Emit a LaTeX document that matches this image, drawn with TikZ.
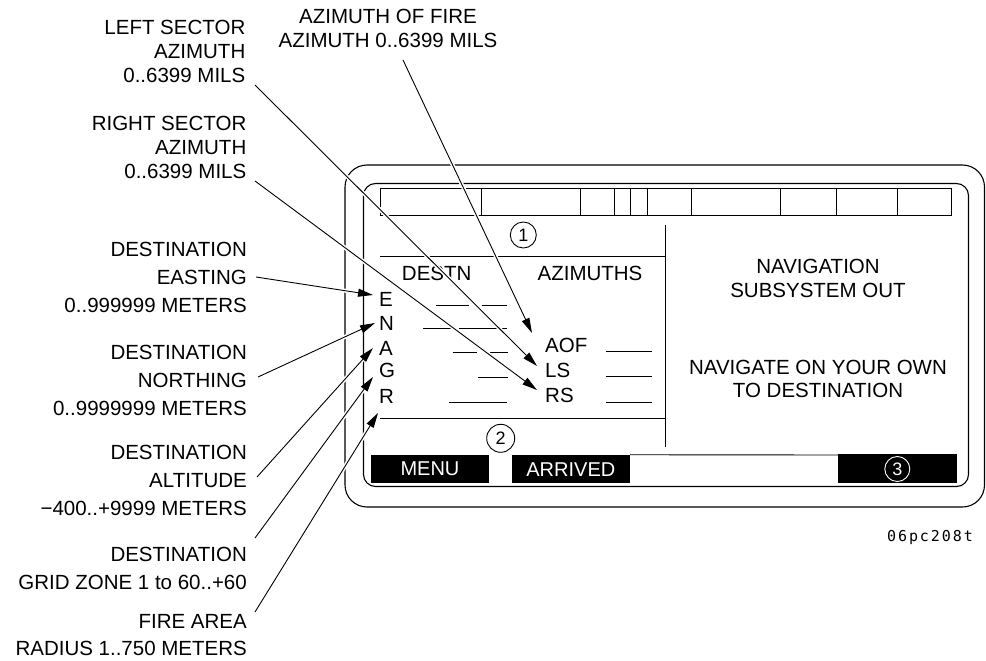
\documentclass[tikz,border=0pt]{standalone}
\usepackage{fontspec}
\setmainfont{Liberation Sans}
\newfontfamily\codefont[LetterSpace=13]{DejaVu Sans Mono}
\usetikzlibrary{arrows.meta}
\begin{document}
\begin{tikzpicture}[x=1pt,y=-1pt,
  lbl/.style={font=\fontsize{20.5}{28}\selectfont, align=right, anchor=east, inner sep=0pt},
  lblt/.style={lbl, font=\fontsize{20.5}{24}\selectfont},
  txt/.style={font=\fontsize{20.5}{24}\selectfont, inner sep=0pt, align=center},
  fld/.style={txt, anchor=west},
  uline/.style={line width=0.9pt},
  frame/.style={line width=1.1pt},
  ptr/.style={line width=0.9pt, -{Triangle[length=15pt,width=8pt]},
              preaction={draw=white, line width=4pt, arrows=-}},
  num/.style={circle, draw, line width=0.9pt, minimum size=26pt, inner sep=0pt,
              font=\fontsize{18}{18}\selectfont},
  softkey/.style={fill=black, text=white, minimum height=28.5pt, inner sep=0pt,
              font=\fontsize{20}{20}\selectfont}]
\useasboundingbox (0,0) rectangle (986,661);

% ---- frames ----
\draw[frame, rounded corners=22pt] (345,165) rectangle (984.5,507);
\draw[frame, rounded corners=12pt] (363.5,183.5) rectangle (968.5,486.5);

% status bar
\draw[uline] (380,188.5) rectangle (951,215.5);
\foreach \xx in {481.7,580.7,614,630.7,647.3,691.7,780,836,897.3}
  \draw[uline] (\xx,188.5) -- (\xx,215.5);

% panel lines
\draw[uline] (380,256.5) -- (665,256.5);
\draw[uline] (380,418.3) -- (665,418.3);
\draw[uline] (665,225) -- (665,447);

% circled numbers
\node[num] (c1) at (523.3,235) {1};
\node[num, minimum size=28pt] (c2) at (500.7,438.3) {2};

% headers
\node[txt] (destn) at (436.7,273.3) {DESTN};
\node[txt] (azs) at (590,273.3) {AZIMUTHS};
\node[txt] (nav) at (818,278) {NAVIGATION\\SUBSYSTEM OUT};
\node[txt, font=\fontsize{20.5}{22.5}\selectfont] (navown) at (818,379) {NAVIGATE ON YOUR OWN\\TO DESTINATION};

% field letters
\node[fld] (fE) at (379,299.3) {E};
\node[fld] (fN) at (379,323.3) {N};
\node[fld] (fA) at (379,348.3) {A};
\node[fld] (fG) at (379,370.5) {G};
\node[fld] (fR) at (379,396.7) {R};
\node[fld] (fAOF) at (545,345) {AOF};
\node[fld] (fLS) at (545,370) {LS};
\node[fld] (fRS) at (545,395) {RS};

% field underscores
\draw[uline] (436,305) -- (469.3,305) (481.7,305) -- (506.7,305);
\draw[uline] (423.3,328.3) -- (453.3,328.3) (459.3,328.3) -- (506.7,328.3);
\draw[uline] (452.7,352.7) -- (476.7,352.7) (490,352.7) -- (508.3,352.7);
\draw[uline] (478.3,377.7) -- (508.3,377.7);
\draw[uline] (449.3,402.7) -- (506.7,402.7);
\draw[uline] (606,351) -- (651.7,351);
\draw[uline] (606,376.7) -- (651.7,376.7);
\draw[uline] (606,402.3) -- (651.7,402.3);

% soft keys
\node[softkey, minimum width=118.6pt] (menu) at (430,469.2) {MENU};
\node[softkey, minimum width=118.3pt] (arrived) at (570.85,469.2) {ARRIVED};
\draw[uline] (arrived.north east) -- (838.3,455);
\node[softkey, minimum width=118.4pt] (k3) at (897.5,468.4) {};
\node[num, draw=white, text=white, minimum size=25pt] (c3) at (897.3,469) {3};

% figure id
\node[inner sep=0pt, font=\codefont\fontsize{15}{15}\selectfont] (fid) at (930,537.3) {06pc208t};

% ---- callout labels ----
\node[txt] (laof) at (388,28.5) {AZIMUTH OF FIRE\\AZIMUTH 0..6399 MILS};
\node[lblt] (lls) at (245.5,51) {LEFT SECTOR\\AZIMUTH\\0..6399 MILS};
\node[lblt] (lrs) at (246.5,147) {RIGHT SECTOR\\AZIMUTH\\0..6399 MILS};
\node[lbl] (le) at (247,277) {DESTINATION\\EASTING\\0..999999 METERS};
\node[lbl] (ln) at (247,380) {DESTINATION\\NORTHING\\0..9999999 METERS};
\node[lbl] (la) at (247,480) {DESTINATION\\ALTITUDE\\−400..+9999 METERS};
\node[lbl] (lg) at (247,568) {DESTINATION\\GRID ZONE 1 to 60..+60};
\node[lbl, font=\fontsize{20.5}{26.5}\selectfont] (lr) at (247,635) {FIRE AREA\\RADIUS 1..750 METERS};

% connector end points
\coordinate (saof) at (403,60);   \coordinate (taof) at (532,333);
\coordinate (sls) at (255,85);    \coordinate (tls) at (537,366);
\coordinate (srs) at (255,181);   \coordinate (trs) at (537,390);
\coordinate (se) at (256,277);    \coordinate (te) at (373,295);
\coordinate (sn) at (258,377);    \coordinate (tn) at (375,323);
\coordinate (sa) at (257,477);    \coordinate (ta) at (373,348);
\coordinate (sg) at (255,538);    \coordinate (tg) at (373,377);
\coordinate (sr) at (255,612);    \coordinate (tr) at (378,413);

\draw[ptr] (saof) -- (taof);
\draw[ptr] (sls) -- (tls);
\draw[ptr] (srs) -- (trs);
\draw[ptr] (se) -- (te);
\draw[ptr] (sn) -- (tn);
\draw[ptr] (sa) -- (ta);
\draw[ptr] (sg) -- (tg);
\draw[ptr] (sr) -- (tr);
\end{tikzpicture}
\end{document}
